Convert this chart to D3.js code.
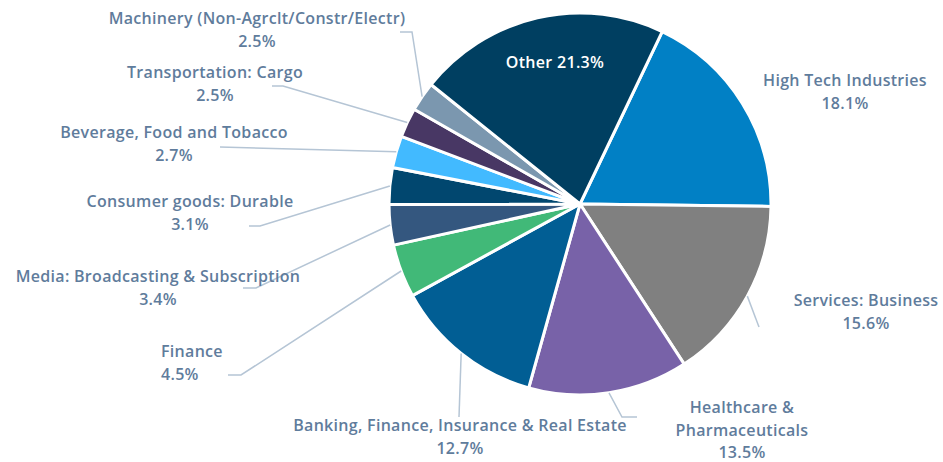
<!DOCTYPE html>
<html>
<head>
<meta charset="utf-8">
<script src="https://cdn.jsdelivr.net/npm/d3@7"></script>
<style>
  body { margin: 0; background: #fff; }
  svg text { font-family: "Open Sans", Lato, sans-serif; font-weight: 600; letter-spacing: 0.3px; }
</style>
</head>
<body>
<svg id="chart" width="943" height="462"></svg>
<script>
// slices, clockwise from the High Tech slice
const categories = [
  'High Tech Industries',
  'Services: Business',
  'Healthcare & Pharmaceuticals',
  'Banking, Finance, Insurance & Real Estate',
  'Finance',
  'Media: Broadcasting & Subscription',
  'Consumer goods: Durable',
  'Beverage, Food and Tobacco',
  'Transportation: Cargo',
  'Machinery (Non-Agrclt/Constr/Electr)',
  'Other',
];
const values = [18.1, 15.6, 13.5, 12.7, 4.5, 3.4, 3.1, 2.7, 2.5, 2.5, 21.3];
const colors = ['#0180c5', '#808080', '#7862a8', '#015e94', '#41b978', '#34577f',
  '#01476f', '#42baff', '#483764', '#7b97af', '#003f61'];

// label layout: text lines, anchor point, and leader elbow (null = no leader)
const labelLayout = [
  { lines: ['High Tech Industries'], x: 845, y: 82, anchor: 'middle', leader: null },
  { lines: ['Services: Business'], x: 866, y: 302, anchor: 'middle', leader: [[759, 327]] },
  { lines: ['Healthcare &', 'Pharmaceuticals'], x: 742, y: 409, anchor: 'middle', leader: [[622, 417], [637, 417]] },
  { lines: ['Banking, Finance, Insurance & Real Estate'], x: 460, y: 427, anchor: 'middle', leader: [[459, 417]] },
  { lines: ['Finance'], x: 161, y: 353, anchor: 'start', leader: [[241, 375], [228, 375]] },
  { lines: ['Media: Broadcasting & Subscription'], x: 158, y: 278, anchor: 'middle', leader: [[256, 288], [243, 288]] },
  { lines: ['Consumer goods: Durable'], x: 190, y: 203, anchor: 'middle', leader: [[260, 226], [249, 226]] },
  { lines: ['Beverage, Food and Tobacco'], x: 174, y: 134, anchor: 'middle', leader: [[220, 147]] },
  { lines: ['Transportation: Cargo'], x: 215, y: 74, anchor: 'middle', leader: [[283, 86], [272, 86]] },
  { lines: ['Machinery (Non-Agrclt/Constr/Electr)'], x: 257, y: 20, anchor: 'middle', leader: [[412, 32], [400, 32]] },
  { lines: ['Other'], x: 555, y: 64, anchor: 'middle', inside: true, leader: null },
];

const cx = 580, cy = 204, radius = 191;
const startDeg = 25.5;
const labelColor = '#5f7c9c';
const lineColor = '#b5c5d5';

const svg = d3.select('#chart');
const g = svg.append('g').attr('transform', `translate(${cx},${cy})`);

const pie = d3.pie()
  .sort(null)
  .value(d => d.value)
  .startAngle(startDeg * Math.PI / 180)
  .endAngle(startDeg * Math.PI / 180 + 2 * Math.PI);

const data = categories.map((c, i) => ({ name: c, value: values[i], color: colors[i], layout: labelLayout[i] }));
const arcs = pie(data);

const arc = d3.arc().innerRadius(0).outerRadius(radius);
const edgeArc = d3.arc().innerRadius(radius).outerRadius(radius);

g.selectAll('path.slice')
  .data(arcs)
  .enter().append('path')
  .attr('class', 'slice')
  .attr('d', arc)
  .attr('fill', d => d.data.color)
  .attr('stroke', '#fff')
  .attr('stroke-width', 3)
  .attr('stroke-linejoin', 'round');

// leader lines from the slice edge to the label
const line = d3.line();
arcs.forEach(d => {
  const lay = d.data.layout;
  if (!lay.leader) return;
  const [ex, ey] = edgeArc.centroid(d);
  const pts = [[cx + ex, cy + ey]].concat(lay.leader);
  svg.append('path')
    .attr('d', line(pts))
    .attr('fill', 'none')
    .attr('stroke', lineColor)
    .attr('stroke-width', 1.5);
});

// labels
arcs.forEach(d => {
  const lay = d.data.layout;
  const pct = d.data.value.toFixed(1) + '%';
  const text = svg.append('text')
    .attr('x', lay.x)
    .attr('y', lay.y)
    .attr('text-anchor', lay.anchor)
    .attr('dominant-baseline', 'middle')
    .attr('font-size', 16)
    .attr('fill', lay.inside ? '#ffffff' : labelColor);
  if (lay.inside) {
    text.text(`${lay.lines[0]} ${pct}`);
    return;
  }
  const lines = lay.lines.concat([pct]);
  lines.forEach((l, i) => {
    text.append('tspan')
      .attr('x', lay.x)
      .attr('dy', i === 0 ? 0 : 22.5)
      .text(l);
  });
});
</script>
</body>
</html>
